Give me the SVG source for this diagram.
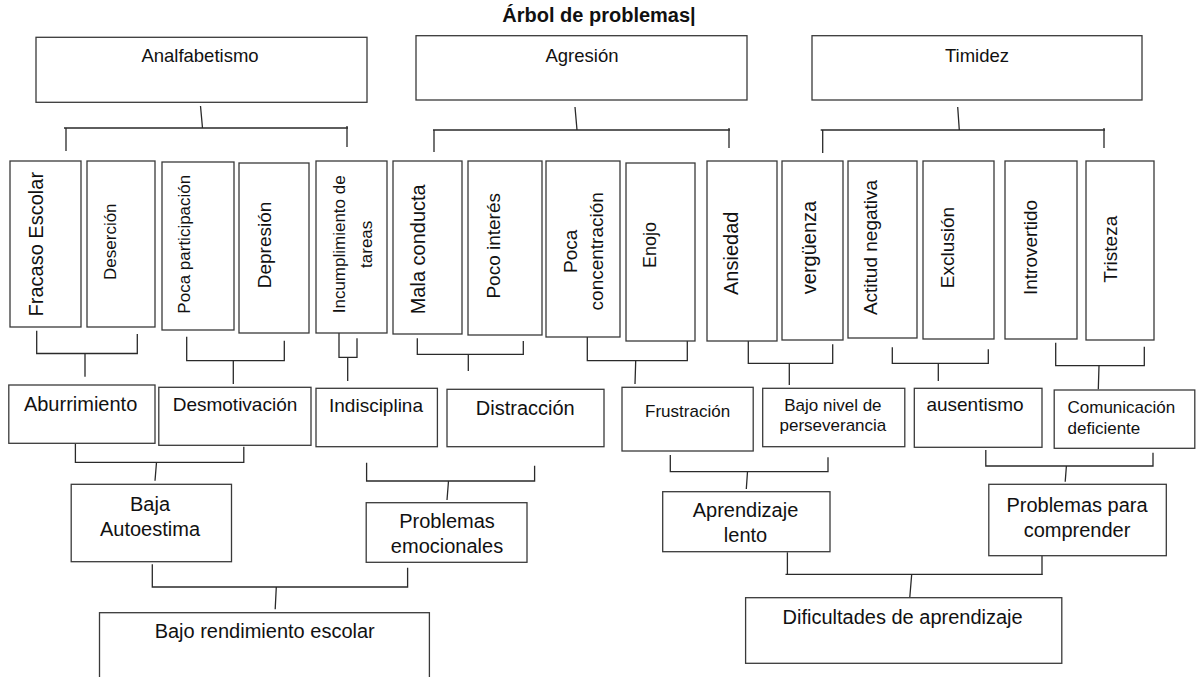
<svg xmlns="http://www.w3.org/2000/svg" width="1196" height="677" viewBox="0 0 1196 677">
<style>
.b{fill:#fff;stroke:#3a3a3a;stroke-width:1.3}
.c{fill:none;stroke:#2a2a2a;stroke-width:1.3}
text{font-family:"Liberation Sans",Arial,sans-serif;fill:#111}
.m{text-anchor:middle}
</style>
<rect width="1196" height="677" fill="#fff"/>
<text x="599" y="22" class="m" font-size="20" font-weight="bold">Árbol de problemas|</text>

<g id="connectors">
<!-- top brackets -->
<path class="c" d="M200.5 106 L202.5 128 M64 128 H348 M66 128 V151 M347 126 V147"/>
<path class="c" d="M575 107 L577 130 M433 130 H730 M434 130 V152 M729 128 V148"/>
<path class="c" d="M957.7 107 L959.3 130 M820.7 130 H1105 M822.7 130 V153 M1104 128 V148"/>
<!-- level1 to level2 -->
<path class="c" d="M36.7 330.7 V353.5 H137.3 V334 M85 354 V376.7"/>
<path class="c" d="M186.7 336.7 V360.7 H284.3 V340.7 M233.3 361 V384"/>
<path class="c" d="M339 333 V357.3 H357 V338.3 M347.7 357.3 V381"/>
<path class="c" d="M417.3 338.3 V354.3 H523.3 V341 M468.3 354.3 V371"/>
<path class="c" d="M587.3 337 V360.7 H687.3 V341 M635.7 361 L635 384"/>
<path class="c" d="M748.3 341 V363.3 H832.7 V344.3 M789.3 363.3 V385"/>
<path class="c" d="M892.3 347.3 V363.3 H988.3 V349.3 M938.3 364 V381"/>
<path class="c" d="M1055.7 342.7 V365.7 H1144.3 V346.7 M1099 366 L1098.3 389.3"/>
<!-- level2 to level3 -->
<path class="c" d="M75.4 444 V462.3 H243.8 V446.7 M156.5 462.3 L155 480.7"/>
<path class="c" d="M366.6 462.7 V481 H534.6 V465.7 M448.5 481 L447 500"/>
<path class="c" d="M670.3 455 V471.7 H828 V457.3 M747.5 471.7 L746.3 489"/>
<path class="c" d="M985.8 450 V466 H1153 V452.7 M1066.4 466 L1065.2 481.7"/>
<!-- level3 to level4 -->
<path class="c" d="M152.3 564.3 V587 H407.6 V567.7 M276.3 587 L275.2 609.3"/>
<path class="c" d="M787.4 552.3 V574.3 M785.5 574.3 H1042.8 M1042 555.7 V574.3 M911.7 574.3 L909.8 597.3"/>
</g>

<g id="analfabetismo"><rect class="b" x="36" y="37.3" width="331" height="65"/><text x="200" y="62" class="m" font-size="18.5">Analfabetismo</text></g>
<g id="agresion"><rect class="b" x="416" y="35.7" width="331" height="64.3"/><text x="582" y="61.5" class="m" font-size="18.5">Agresión</text></g>
<g id="timidez"><rect class="b" x="812" y="35.7" width="330" height="64.3"/><text x="977" y="61.5" class="m" font-size="18.5">Timidez</text></g>

<g id="fracaso"><rect class="b" x="10" y="161" width="71" height="166"/><text transform="translate(43,244.2) rotate(-90)" class="m" font-size="20">Fracaso Escolar</text></g>
<g id="desercion"><rect class="b" x="87" y="161" width="68" height="166"/><text transform="translate(116,241.7) rotate(-90)" class="m" font-size="17">Deserción</text></g>
<g id="poca-participacion"><rect class="b" x="162" y="162" width="72" height="168"/><text transform="translate(190,244.2) rotate(-90)" class="m" font-size="17">Poca participación</text></g>
<g id="depresion"><rect class="b" x="239" y="163" width="70" height="170"/><text transform="translate(270.5,245) rotate(-90)" class="m" font-size="19">Depresión</text></g>
<g id="incumplimiento"><rect class="b" x="316" y="161" width="71" height="172"/><text transform="translate(345,244.3) rotate(-90)" class="m" font-size="17"><tspan x="0" y="0">Incumplimiento de</tspan><tspan x="0" y="27">tareas</tspan></text></g>
<g id="mala-conducta"><rect class="b" x="393" y="161" width="69" height="173"/><text transform="translate(425,249.3) rotate(-90)" class="m" font-size="20">Mala conducta</text></g>
<g id="poco-interes"><rect class="b" x="468" y="161" width="74" height="174"/><text transform="translate(500,245.8) rotate(-90)" class="m" font-size="19">Poco interés</text></g>
<g id="poca-concentracion"><rect class="b" x="546" y="161" width="74" height="176"/><text transform="translate(577,251.3) rotate(-90)" class="m" font-size="19"><tspan x="0" y="0">Poca</tspan><tspan x="0" y="25.5">concentración</tspan></text></g>
<g id="enojo"><rect class="b" x="626" y="163" width="69" height="178"/><text transform="translate(656,245) rotate(-90)" class="m" font-size="18">Enojo</text></g>
<g id="ansiedad"><rect class="b" x="707" y="161" width="70" height="180"/><text transform="translate(738,253.3) rotate(-90)" class="m" font-size="20">Ansiedad</text></g>
<g id="verguenza"><rect class="b" x="782" y="161" width="61" height="179"/><text transform="translate(816,247.5) rotate(-90)" class="m" font-size="20">vergüenza</text></g>
<g id="actitud-negativa"><rect class="b" x="848" y="161" width="69" height="177"/><text transform="translate(877,247.5) rotate(-90)" class="m" font-size="19">Actitud negativa</text></g>
<g id="exclusion"><rect class="b" x="923" y="161" width="71" height="178"/><text transform="translate(954,247.5) rotate(-90)" class="m" font-size="19">Exclusión</text></g>
<g id="introvertido"><rect class="b" x="1005" y="161" width="72" height="178"/><text transform="translate(1037,247.5) rotate(-90)" class="m" font-size="19">Introvertido</text></g>
<g id="tristeza"><rect class="b" x="1086" y="161" width="68" height="179"/><text transform="translate(1117,249.2) rotate(-90)" class="m" font-size="19">Tristeza</text></g>

<g id="aburrimiento"><rect class="b" x="8.8" y="385" width="146.2" height="58.3"/><text x="80.6" y="411" class="m" font-size="20">Aburrimiento</text></g>
<g id="desmotivacion"><rect class="b" x="158.8" y="387.3" width="152.2" height="58"/><text x="235" y="411" class="m" font-size="19">Desmotivación</text></g>
<g id="indisciplina"><rect class="b" x="316" y="388.3" width="121.4" height="58.4"/><text x="376" y="411.7" class="m" font-size="19">Indisciplina</text></g>
<g id="distraccion"><rect class="b" x="447" y="389.3" width="157" height="57.4"/><text x="525.3" y="415" class="m" font-size="20">Distracción</text></g>
<g id="frustracion"><rect class="b" x="622" y="387.3" width="131.2" height="63.7"/><text x="687.6" y="416.7" class="m" font-size="17">Frustración</text></g>
<g id="bajo-nivel"><rect class="b" x="762.7" y="388.3" width="142.1" height="58.4"/><text x="832.9" y="410.7" class="m" font-size="17"><tspan x="832.9">Bajo nivel de</tspan><tspan x="832.9" y="430.7">perseverancia</tspan></text></g>
<g id="ausentismo"><rect class="b" x="914.3" y="388.3" width="127.7" height="59"/><text x="975" y="411" class="m" font-size="19">ausentismo</text></g>
<g id="comunicacion"><rect class="b" x="1054.2" y="390" width="140.6" height="58.3"/><text x="1067.5" y="413.3" font-size="17"><tspan x="1067.5">Comunicación</tspan><tspan x="1067.5" y="434.3">deficiente</tspan></text></g>

<g id="baja-autoestima"><rect class="b" x="71.2" y="484.3" width="160.3" height="77.4"/><text class="m" font-size="20"><tspan x="150" y="510.7">Baja</tspan><tspan x="150" y="536">Autoestima</tspan></text></g>
<g id="problemas-emocionales"><rect class="b" x="366.2" y="502.7" width="160.8" height="59.6"/><text class="m" font-size="20"><tspan x="447" y="528.3">Problemas</tspan><tspan x="447" y="552.7">emocionales</tspan></text></g>
<g id="aprendizaje-lento"><rect class="b" x="662.7" y="491.7" width="167.3" height="60"/><text class="m" font-size="20"><tspan x="745.5" y="516.7">Aprendizaje</tspan><tspan x="745.5" y="541.7">lento</tspan></text></g>
<g id="problemas-comprender"><rect class="b" x="988.8" y="484.3" width="177.5" height="71.4"/><text class="m" font-size="20"><tspan x="1077" y="511.7">Problemas para</tspan><tspan x="1077" y="536.7">comprender</tspan></text></g>

<g id="bajo-rendimiento"><rect class="b" x="99.5" y="612.7" width="329.9" height="90"/><text x="264.7" y="638.3" class="m" font-size="20">Bajo rendimiento escolar</text></g>
<g id="dificultades"><rect class="b" x="745.6" y="597.7" width="316.2" height="65.6"/><text x="902.6" y="624" class="m" font-size="20">Dificultades de aprendizaje</text></g>
</svg>
